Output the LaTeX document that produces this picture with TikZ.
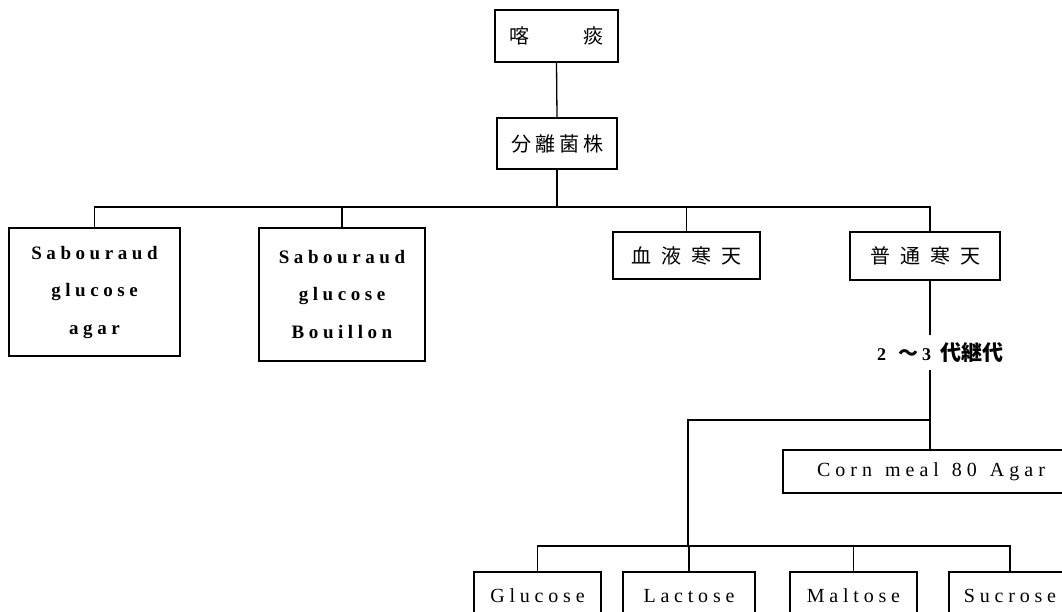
\documentclass[tikz,border=0pt]{standalone}
\usepackage{fontspec}
\setmainfont{Liberation Serif}
\newfontfamily\cjk{Noto Sans CJK JP}
\newfontfamily\lsp[LetterSpace=24]{Liberation Serif}
\newfontfamily\lspw[LetterSpace=25]{Liberation Serif}
\tikzset{
  box/.style={draw, line width=1.3pt, inner sep=0pt, align=center},
  conn/.style={line width=1.3pt},
  latin/.style={font={\lsp\bfseries\fontsize{19}{37.5}\selectfont}},
  sugar/.style={font={\lsp\fontsize{20}{24}\selectfont}},
  jp/.style={font={\cjk\fontsize{20}{24}\selectfont}}
}
\begin{document}
\begin{tikzpicture}[x=1pt,y=-1pt]
\useasboundingbox (0,0) rectangle (1062,611);
\clip (0,0) rectangle (1062,611);
% top
\node[box, jp, minimum width=123pt, minimum height=52pt] (sputum) at (556.5,36) {喀\hspace{54pt}痰};
\node[box, jp, minimum width=120pt, minimum height=51pt] (iso) at (557,143.5) {分\hspace{4pt}離\hspace{4pt}菌\hspace{4pt}株};
% media row
\node[box, latin, minimum width=171pt, minimum height=128pt] (agar) at (94.5,292) {Sabouraud\\glucose\\agar};
\node[box, latin, minimum width=166pt, minimum height=133pt] (bouillon) at (342,294.5) {Sabouraud\\glucose\\Bouillon};
\node[box, jp, minimum width=147pt, minimum height=47pt] (blood) at (686.5,255.5) {血\hspace{10pt}液\hspace{10pt}寒\hspace{10pt}天};
\node[box, jp, minimum width=150pt, minimum height=48pt] (futsu) at (925,256) {普\hspace{10pt}通\hspace{10pt}寒\hspace{10pt}天};
% subculture label
\node[inner sep=0pt] (lbl) at (940,353) {\bfseries\fontsize{18}{20}\selectfont 2\hspace{12pt}{\cjk\fontsize{20}{22}\selectfont 〜}\hspace{4pt}3\hspace{9pt}{\cjk\fontsize{21}{22}\selectfont 代継代}};
% corn meal
\node[box, font={\lspw\fontsize{20}{24}\selectfont}, minimum width=296pt, minimum height=43pt] (corn) at (931,471.5) {Corn\hspace{13pt}meal\hspace{13pt}80\hspace{13pt}Agar};
% sugars
\node[box, sugar, minimum width=127pt, minimum height=48pt] (glu) at (537.5,596) {Glucose};
\node[box, sugar, minimum width=132pt, minimum height=48pt] (lac) at (689,596) {Lactose};
\node[box, sugar, minimum width=127pt, minimum height=48pt] (mal) at (853.5,596) {Maltose};
\node[box, sugar, minimum width=122pt, minimum height=48pt] (suc) at (1010,596) {Sucrose};
% coordinates
\coordinate (bus) at (0,207);
\coordinate (trunk) at (930,0);
\coordinate (gapA) at (930,335);
\coordinate (gapB) at (930,370);
\coordinate (j1) at (930,420);
\coordinate (j2) at (688,420);
\coordinate (bus2) at (0,546);
% connectors
\draw[conn] (sputum.south) -- (iso.north);
\draw[conn] (iso.south) -- (iso.south |- bus);
\draw[conn] (agar.north) -- (agar.north |- bus) -- (trunk |- bus) -- (trunk |- futsu.north);
\draw[conn] (bouillon.north) -- (bouillon.north |- bus);
\draw[conn] (blood.north) -- (blood.north |- bus);
\draw[conn] (trunk |- futsu.south) -- (gapA);
\draw[conn] (gapB) -- (trunk |- corn.north);
\draw[conn] (j1) -- (j2) -- (j2 |- bus2);
\draw[conn] (glu.north) -- (glu.north |- bus2) -- (suc.north |- bus2) -- (suc.north);
\draw[conn] (lac.north) -- (lac.north |- bus2);
\draw[conn] (mal.north) -- (mal.north |- bus2);
\end{tikzpicture}
\end{document}
